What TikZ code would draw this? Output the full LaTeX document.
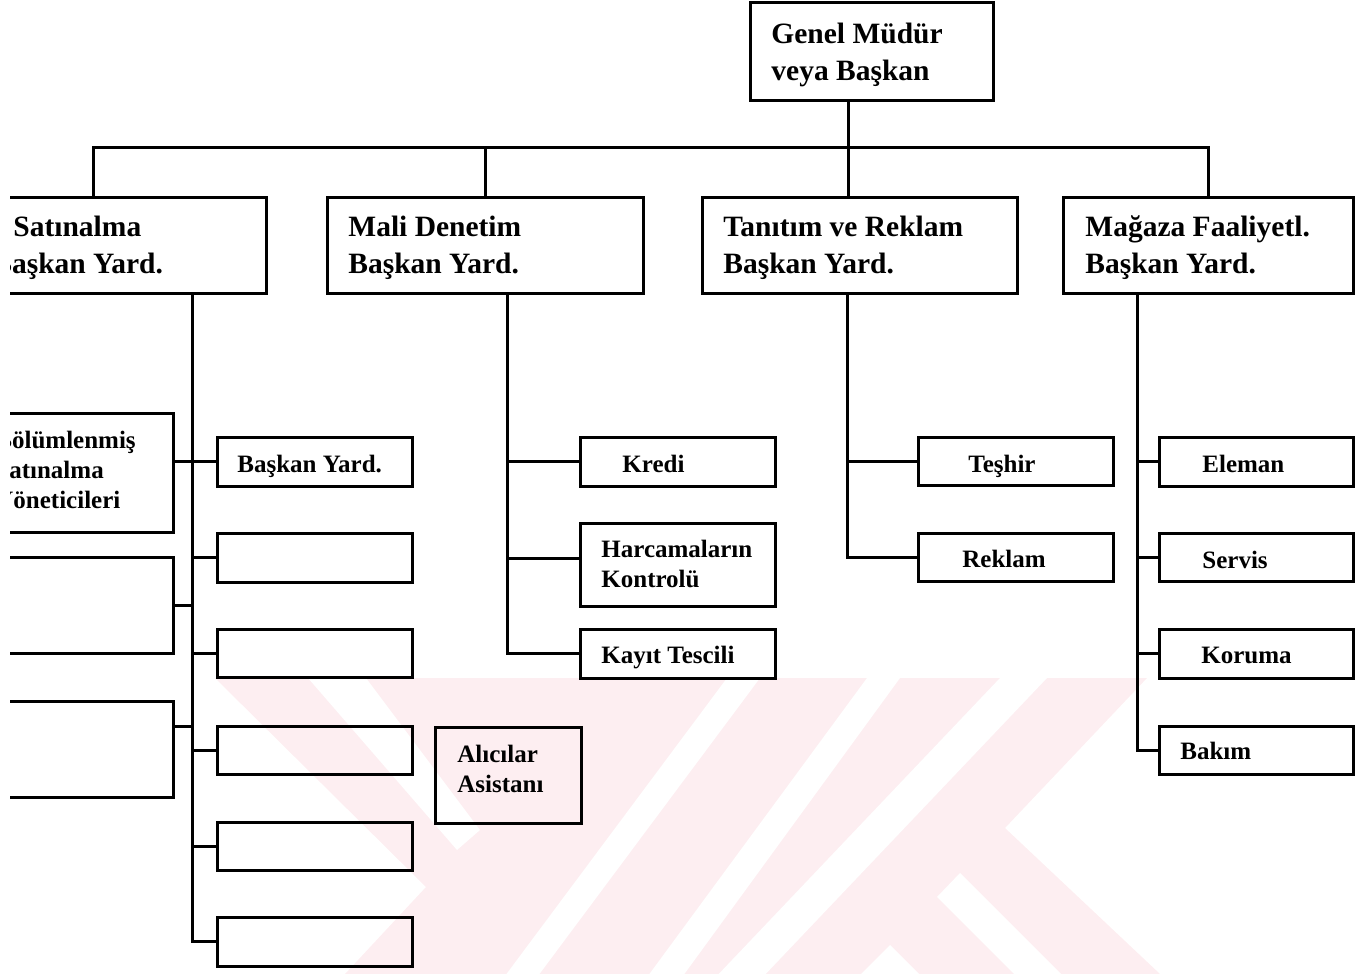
\documentclass[tikz,border=0pt]{standalone}
\usepackage{fontspec}
\setmainfont{Liberation Serif}
\definecolor{wm}{RGB}{253,238,241}
% box given by its corners (x1,y1) and (x2,y2)
\newcommand\orgbox[5]{\node[bx, minimum width={(#4-#2)*0.5pt}, minimum height={(#5-#3)*0.5pt}] (#1) at ({(#2+#4)/2},{(#3+#5)/2}) {};}
\begin{document}
\begin{tikzpicture}[x=0.5pt,y=-0.5pt,
  bx/.style={draw, line width=1.5pt, inner sep=0pt, outer sep=0pt},
  wire/.style={line width=1.5pt},
  big/.style={anchor=base west, inner sep=0pt, align=left, font=\bfseries\fontsize{14.75pt}{18.5pt}\selectfont},
  small/.style={anchor=base west, inner sep=0pt, align=left, font=\bfseries\fontsize{12.5pt}{15pt}\selectfont}]

\useasboundingbox (0,0) rectangle (1371,974);

% faint background emblem
\begin{scope}
  \clip (215,678) -- (1147,678) -- (1005,828) -- (1160,974) -- (345,974) -- (426,887) -- cycle;
  \fill[wm] (0,670) rectangle (1371,980);
  \fill[white] (308,678) -- (366,678) -- (480,830) -- (457,850) -- cycle;
  \fill[white] (727,678) -- (760,678) -- (535,980) -- (502,980) -- cycle;
  \fill[white] (867,678) -- (900,678) -- (680,980) -- (645,980) -- cycle;
  \fill[white] (1000,678) -- (1047,678) -- (760,980) -- (713,980) -- cycle;
  \fill[white] (890,945) -- (855,980) -- (925,980) -- cycle;
  \fill[white] (937,897) -- (960,873) -- (1067,980) -- (1020,980) -- cycle;
\end{scope}

\begin{scope}
\clip (10,-20) rectangle (1390,1000);

% boxes
\orgbox{gm}{750}{3}{993}{101}
\orgbox{sat}{-80}{197}{266}{293}
\orgbox{mal}{327}{197}{643}{293}
\orgbox{tan}{702}{197}{1017}{293}
\orgbox{mag}{1063}{197}{1353}{293}

\orgbox{by}{217}{437}{412}{486}
\orgbox{e1}{217}{533}{412}{582}
\orgbox{e2}{217}{629}{412}{677}
\orgbox{e3}{217}{726}{412}{774}
\orgbox{e4}{217}{822}{412}{870}
\orgbox{e5}{217}{917}{412}{966}
\orgbox{bol}{-60}{413}{173}{532}
\orgbox{l2}{-60}{557}{173}{653}
\orgbox{l3}{-60}{701}{173}{797}
\orgbox{ali}{435}{727}{581}{823}

\orgbox{kre}{580}{437}{775}{486}
\orgbox{har}{580}{523}{775}{606}
\orgbox{kay}{580}{629}{775}{678}

\orgbox{tes}{918}{437}{1113}{485}
\orgbox{rek}{918}{533}{1113}{581}

\orgbox{ele}{1159}{437}{1353}{486}
\orgbox{ser}{1159}{533}{1353}{581}
\orgbox{kor}{1159}{629}{1353}{678}
\orgbox{bak}{1159}{726}{1353}{774}

% trunk lines and bus
\coordinate (tc) at (848,0);
\coordinate (ts) at (192,0);
\coordinate (tm) at (507,0);
\coordinate (tt) at (847,0);
\coordinate (tg) at (1137,0);
\coordinate (busy) at (0,148);

\draw[wire] (gm.south -| tc) -- (tan.north -| tc);
\draw[wire] (sat.north) -- (sat.north |- busy) -- (mag.north |- busy) -- (mag.north);
\draw[wire] (mal.north) -- (mal.north |- busy);

\draw[wire] (sat.south -| ts) |- (e5.west);
\foreach \b in {by,e1,e2,e3,e4} \draw[wire] (\b.west -| ts) -- (\b.west);
\draw[wire] (bol.east |- by.west) -- (by.west -| ts);
\draw[wire] (l2.east) -- (l2.east -| ts);
\coordinate (l3c) at ([yshift=11.5pt]l3.east);
\draw[wire] (l3c) -- (l3c -| ts);

\draw[wire] (mal.south -| tm) |- (kay.west);
\draw[wire] (kre.west -| tm) -- (kre.west);
\coordinate (harc) at ([yshift=3pt]har.west);
\draw[wire] (harc -| tm) -- (harc);

\draw[wire] (tan.south -| tt) |- (rek.west);
\draw[wire] (tes.west -| tt) -- (tes.west);

\draw[wire] (mag.south -| tg) |- (bak.west);
\foreach \b in {ele,ser,kor} \draw[wire] (\b.west -| tg) -- (\b.west);

% labels (base anchor sits on the last line)
\node[big] (gm-t) at (771,81) {Genel Müdür\\veya Başkan};
\node[big] (sat-t) at (-8,273) {\hspace*{10.5pt}Satınalma\\Başkan Yard.};
\node[big] (mal-t) at (348,273) {Mali Denetim\\Başkan Yard.};
\node[big] (tan-t) at (723,273) {Tanıtım ve Reklam\\Başkan Yard.};
\node[big] (mag-t) at (1085,273) {Mağaza Faaliyetl.\\Başkan Yard.};

\node[small] (bol-t) at (-5,508) {Bölümlenmiş\\Satınalma\\Yöneticileri};
\node[small] (by-t) at (237,472) {Başkan Yard.};
\node[small] (ali-t) at (457,792) {Alıcılar\\Asistanı};

\node[small] (kre-t) at (622,472) {Kredi};
\node[small] (har-t) at (601,587) {Harcamaların\\Kontrolü};
\node[small] (kay-t) at (601,663) {Kayıt Tescili};

\node[small] (tes-t) at (968,472) {Teşhir};
\node[small] (rek-t) at (962,567) {Reklam};

\node[small] (ele-t) at (1202,472) {Eleman};
\node[small] (ser-t) at (1202,568) {Servis};
\node[small] (kor-t) at (1201,663) {Koruma};
\node[small] (bak-t) at (1180,759) {Bakım};
\end{scope}
\end{tikzpicture}
\end{document}
